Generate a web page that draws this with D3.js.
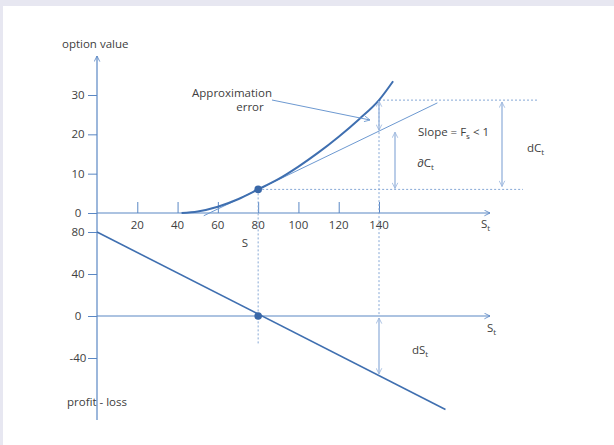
<!DOCTYPE html>
<html>
<head>
<meta charset="utf-8">
<script src="https://cdn.jsdelivr.net/npm/d3@7"></script>
<style>
  html, body { margin: 0; padding: 0; background: #e7e7f1; }
  svg { display: block; }
  text { font-family: "Open Sans", "Noto Sans", sans-serif; font-size: 11.5px; fill: #404040; }
</style>
</head>
<body>
<script>
// ---- data ----
const xTicks = [20, 40, 60, 80, 100, 120, 140];
const upperYTicks = [0, 10, 20, 30];
const lowerYTicks = [-40, 0, 40, 80];
// option value curve
const curveS = [42, 50, 60, 70, 80, 90, 100, 110, 120, 130, 140, 147];
const curveV = [0, 0.4, 1.6, 3.5, 6, 8.6, 11.8, 15.4, 19.4, 23.8, 28.7, 33.5];
// tangent line at S = 80
const tangentS = [53, 169];
const tangentV = [-0.7, 28];
// profit - loss line
const plS = [0, 173];
const plV = [80, -89];
const spot = 80, spotValue = 6, spotPL = 0;
const moveS = 140, moveValue = 28.7, moveTangent = 20.8, movePL = -57;

const W = 614, H = 445;
const svg = d3.select("body").append("svg").attr("width", W).attr("height", H);
svg.append("rect").attr("x", 3).attr("y", 6).attr("width", W - 3).attr("height", H - 6).attr("fill", "#ffffff");

const axisCol = "#5a87c4", curveCol = "#3f6fb0", tanCol = "#6d99d1", dashCol = "#86a8d6", arrCol = "#9db8de";

const defs = svg.append("defs");
function marker(id, col) {
  defs.append("marker").attr("id", id).attr("viewBox", "0 0 10 10").attr("refX", 9).attr("refY", 5)
    .attr("markerWidth", 7).attr("markerHeight", 7).attr("markerUnits", "userSpaceOnUse").attr("orient", "auto-start-reverse")
    .append("path").attr("d", "M1,1 L9,5 L1,9").attr("fill", "none").attr("stroke", col).attr("stroke-width", 1.2);
}
marker("axArr", axisCol);
marker("arr", arrCol);
marker("ptr", tanCol);

const x = d3.scaleLinear().domain([0, 140]).range([97, 379]);
const yU = d3.scaleLinear().domain([0, 30]).range([213, 95]);
const yL = d3.scaleLinear().domain([-40, 80]).range([358, 232]);

// vertical axis line (shared)
svg.append("line").attr("x1", x(0)).attr("x2", x(0)).attr("y1", 420).attr("y2", 56)
  .attr("stroke", axisCol).attr("stroke-width", 1.2).attr("marker-end", "url(#axArr)");

// upper x axis
svg.append("line").attr("x1", x(0)).attr("x2", 490).attr("y1", yU(0)).attr("y2", yU(0))
  .attr("stroke", axisCol).attr("stroke-width", 1.2).attr("marker-end", "url(#axArr)");
const gx = svg.append("g").attr("transform", `translate(0,${yU(0)})`)
  .call(d3.axisTop(x).tickValues(xTicks).tickSize(11).tickFormat(""));
gx.select(".domain").remove();
gx.selectAll("line").attr("stroke", axisCol);
svg.selectAll(".xlab").data(xTicks).join("text").attr("class", "xlab")
  .attr("x", d => x(d)).attr("y", 229).attr("text-anchor", "middle").text(d => d);

// upper y axis
const gyU = svg.append("g").attr("transform", `translate(${x(0)},0)`)
  .call(d3.axisLeft(yU).tickValues(upperYTicks).tickSize(9).tickFormat(""));
gyU.select(".domain").remove();
gyU.selectAll("line").attr("stroke", axisCol);
svg.selectAll(".yu").data(upperYTicks).join("text").attr("class", "yu")
  .attr("x", 78).attr("y", d => yU(d) + 4).attr("text-anchor", "middle").text(d => d);

// lower axis
svg.append("line").attr("x1", x(0)).attr("x2", 490).attr("y1", yL(0)).attr("y2", yL(0))
  .attr("stroke", axisCol).attr("stroke-width", 1.2).attr("marker-end", "url(#axArr)");
const gyL = svg.append("g").attr("transform", `translate(${x(0)},0)`)
  .call(d3.axisLeft(yL).tickValues(lowerYTicks).tickSize(9).tickFormat(""));
gyL.select(".domain").remove();
gyL.selectAll("line").attr("stroke", axisCol);
svg.selectAll(".yl").data(lowerYTicks).join("text").attr("class", "yl")
  .attr("x", 78).attr("y", d => yL(d) + 4).attr("text-anchor", "middle").text(d => d);

// dashed guides
const dash = (x1, y1, x2, y2) => svg.append("line").attr("x1", x1).attr("y1", y1).attr("x2", x2).attr("y2", y2)
  .attr("stroke", dashCol).attr("stroke-width", 1).attr("stroke-dasharray", "2,2");
dash(x(spot), yU(spotValue), 523, yU(spotValue));
dash(x(moveS), yU(moveValue), 538, yU(moveValue));
dash(x(spot), yU(spotValue), x(spot), 345);
dash(x(moveS), yU(moveValue), x(moveS), yL(0));

// tangent
svg.append("line").attr("x1", x(tangentS[0])).attr("y1", yU(tangentV[0]))
  .attr("x2", x(tangentS[1])).attr("y2", yU(tangentV[1])).attr("stroke", tanCol).attr("stroke-width", 1);

// curve
const curveData = curveS.map((s, i) => [s, curveV[i]]);
svg.append("path").datum(curveData)
  .attr("d", d3.line().x(d => x(d[0])).y(d => yU(d[1])).curve(d3.curveMonotoneX))
  .attr("fill", "none").attr("stroke", curveCol).attr("stroke-width", 2);

// profit-loss line
svg.append("line").attr("x1", x(plS[0])).attr("y1", yL(plV[0])).attr("x2", x(plS[1])).attr("y2", yL(plV[1]))
  .attr("stroke", curveCol).attr("stroke-width", 1.6);

// dots
svg.append("circle").attr("cx", x(spot)).attr("cy", yU(spotValue)).attr("r", 3.8).attr("fill", "#3a68a8");
svg.append("circle").attr("cx", x(spot)).attr("cy", yL(spotPL)).attr("r", 3.8).attr("fill", "#3a68a8");

// double arrows
const darr = (xx, y1, y2) => svg.append("line").attr("x1", xx).attr("x2", xx).attr("y1", y1).attr("y2", y2)
  .attr("stroke", arrCol).attr("stroke-width", 1.4)
  .attr("marker-start", "url(#arr)").attr("marker-end", "url(#arr)");
darr(x(moveS), yU(moveValue) + 1, yU(moveTangent) - 1);
darr(395, yU(spotValue) - 1, yU(moveTangent) + 1);
darr(502, yU(moveValue) + 2, yU(spotValue) - 3);
darr(x(moveS), yL(spotPL) + 2, yL(movePL) - 2);

// pointer
svg.append("line").attr("x1", 272).attr("y1", 100).attr("x2", 370).attr("y2", 120)
  .attr("stroke", tanCol).attr("stroke-width", 1).attr("marker-end", "url(#ptr)");

// texts
const txt = (t, xx, yy, anchor) => svg.append("text").attr("x", xx).attr("y", yy).attr("text-anchor", anchor || "start").text(t);
txt("option value", 62, 48);
txt("profit - loss", 67, 406);
txt("Approximation", 232, 97, "middle");
txt("error", 250, 111, "middle");
txt("S", 245, 247, "middle");
const sub = (main, s, xx, yy, tail) => {
  const t = svg.append("text").attr("x", xx).attr("y", yy);
  t.append("tspan").text(main);
  t.append("tspan").attr("dy", 3).style("font-size", "8px").text(s);
  if (tail) t.append("tspan").attr("dy", -3).text(tail);
  return t;
};
sub("S", "t", 481, 228);
sub("S", "t", 487, 332);
sub("dS", "t", 412, 354);
sub("dC", "t", 527, 152);
sub("∂C", "t", 417, 167);
sub("Slope = F", "s", 418, 136, " < 1");
</script>
</body>
</html>
